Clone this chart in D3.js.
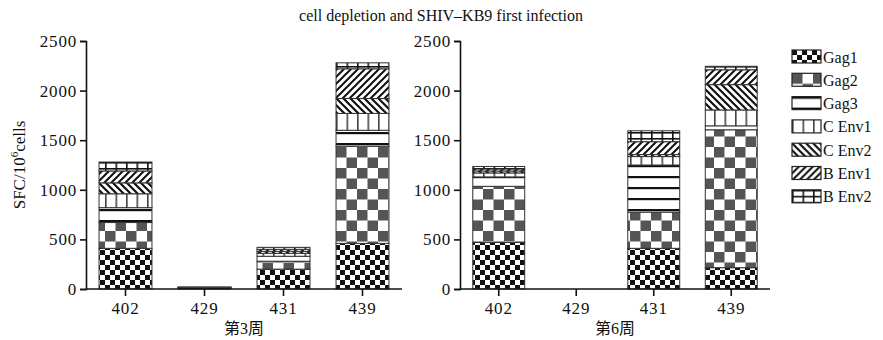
<!DOCTYPE html>
<html>
<head>
<meta charset="utf-8">
<script src="https://cdn.jsdelivr.net/npm/d3@7/dist/d3.min.js"></script>
<style>
  body { margin: 0; background: #fff; }
  text { font-family: "Liberation Serif", "Noto Sans CJK SC", serif; fill: #111; }
</style>
</head>
<body>
<svg id="chart" width="883" height="340"></svg>
<script>
// data
const categories = ['402', '429', '431', '439'];
const seriesNames = ['Gag1', 'Gag2', 'Gag3', 'C Env1', 'C Env2', 'B Env1', 'B Env2'];
// values per category, in series order
const week3 = [
  [410, 260, 150, 140, 110, 120, 90],
  [10, 4, 2, 2, 0, 0, 2],
  [200, 80, 50, 30, 20, 20, 20],
  [460, 980, 160, 170, 150, 300, 60]
];
const week6 = [
  [470, 565, 95, 40, 20, 20, 25],
  [0, 0, 0, 0, 0, 0, 0],
  [410, 365, 475, 85, 20, 130, 110],
  [215, 1390, 40, 160, 255, 150, 35]
];
const yTicks = [0, 500, 1000, 1500, 2000, 2500];
const weekLabels = ['第3周', '第6周'];
const title = 'cell depletion and SHIV–KB9 first infection';

const svg = d3.select('#chart');
const defs = svg.append('defs');

// fill patterns, one per series
function pat(id, w, h) {
  const p = defs.append('pattern').attr('id', id)
    .attr('patternUnits', 'userSpaceOnUse').attr('width', w).attr('height', h);
  p.append('rect').attr('width', w).attr('height', h).attr('fill', '#fff');
  return p;
}
let p = pat('p0', 10, 10);
p.append('rect').attr('width', 5).attr('height', 5).attr('fill', '#111');
p.append('rect').attr('x', 5).attr('y', 5).attr('width', 5).attr('height', 5).attr('fill', '#111');

p = pat('p1', 21, 21);
p.append('rect').attr('width', 10.5).attr('height', 10.5).attr('fill', '#555');
p.append('rect').attr('x', 10.5).attr('y', 10.5).attr('width', 10.5).attr('height', 10.5).attr('fill', '#555');

p = pat('p2', 10, 11);
p.append('rect').attr('y', 0).attr('width', 10).attr('height', 2.2).attr('fill', '#111');

p = pat('p3', 10.5, 10);
p.append('rect').attr('x', 0).attr('width', 1.6).attr('height', 10).attr('fill', '#444');

p = pat('p4', 7, 7);
p.append('path').attr('d', 'M-1,-1L8,8M-8,-1L1,8M6,-1L15,8').attr('stroke', '#111').attr('stroke-width', 2.2);

p = pat('p5', 7, 7);
p.append('path').attr('d', 'M-1,8L8,-1M-8,8L1,-1M6,8L15,-1').attr('stroke', '#111').attr('stroke-width', 2);

p = pat('p6', 10.5, 6);
p.append('rect').attr('width', 10.5).attr('height', 1.6).attr('fill', '#111');
p.append('rect').attr('width', 1.6).attr('height', 6).attr('fill', '#111');

const y = d3.scaleLinear().domain([0, 2500]).range([289, 41]);
const stack = d3.stack().keys(d3.range(seriesNames.length));

function panel(data, x0, x1, label) {
  const x = d3.scaleBand().domain(categories).range([x0, x1])
    .paddingInner(0.33).paddingOuter(0.165);

  const layers = stack(data);
  const g = svg.append('g');
  layers.forEach((layer, i) => {
    g.selectAll(null).data(layer.map((d, j) => ({ d, c: categories[j] })))
      .enter().filter(o => o.d[1] - o.d[0] > 0)
      .append('rect')
      .attr('x', o => x(o.c))
      .attr('width', x.bandwidth())
      .attr('y', o => y(o.d[1]))
      .attr('height', o => y(o.d[0]) - y(o.d[1]))
      .attr('fill', `url(#p${i})`)
      .attr('stroke', '#333')
      .attr('stroke-width', 1);
  });

  const ya = svg.append('g').attr('transform', `translate(${x0},0)`)
    .call(d3.axisLeft(y).tickValues(yTicks).tickSize(6).tickPadding(3).tickFormat(d3.format('d')));
  const xa = svg.append('g').attr('transform', `translate(0,${y(0)})`)
    .call(d3.axisBottom(x).tickSize(7).tickPadding(6).tickSizeOuter(0));
  [ya, xa].forEach(a => {
    a.select('.domain').attr('stroke', '#111').attr('stroke-width', 1.6);
    a.selectAll('.tick line').attr('stroke', '#111').attr('stroke-width', 1.6);
    a.selectAll('text').style('font-family', '"Liberation Serif", serif').style('font-size', '17px')
      .style('letter-spacing', '0.8px').attr('fill', '#111');
  });
  xa.select('.domain').attr('d', `M${x0},0H${x1}`);

  svg.append('text').attr('x', (x0 + x1) / 2).attr('y', 334)
    .attr('text-anchor', 'middle').style('font-size', '16px').text(label);
}

panel(week3, 86, 402, weekLabels[0]);
panel(week6, 460, 770, weekLabels[1]);

svg.append('text').attr('x', 441).attr('y', 21).attr('text-anchor', 'middle')
  .style('font-size', '16px').text(title);

const yl = svg.append('text').attr('transform', 'translate(25,165) rotate(-90)')
  .attr('text-anchor', 'middle').style('font-size', '17px');
yl.append('tspan').text('SFC/10');
yl.append('tspan').attr('dy', -7).style('font-size', '11px').text('6');
yl.append('tspan').attr('dy', 7).text('cells');

// legend
const lg = svg.append('g').selectAll('g').data(seriesNames).enter().append('g')
  .attr('transform', (d, i) => `translate(792,${50 + i * 23.3})`);
lg.append('rect').attr('width', 29).attr('height', 13)
  .attr('fill', (d, i) => `url(#p${i})`).attr('stroke', '#222').attr('stroke-width', 1.2);
lg.append('text').attr('x', 31).attr('y', 12.5).style('font-size', '16px').text(d => d);
</script>
</body>
</html>
